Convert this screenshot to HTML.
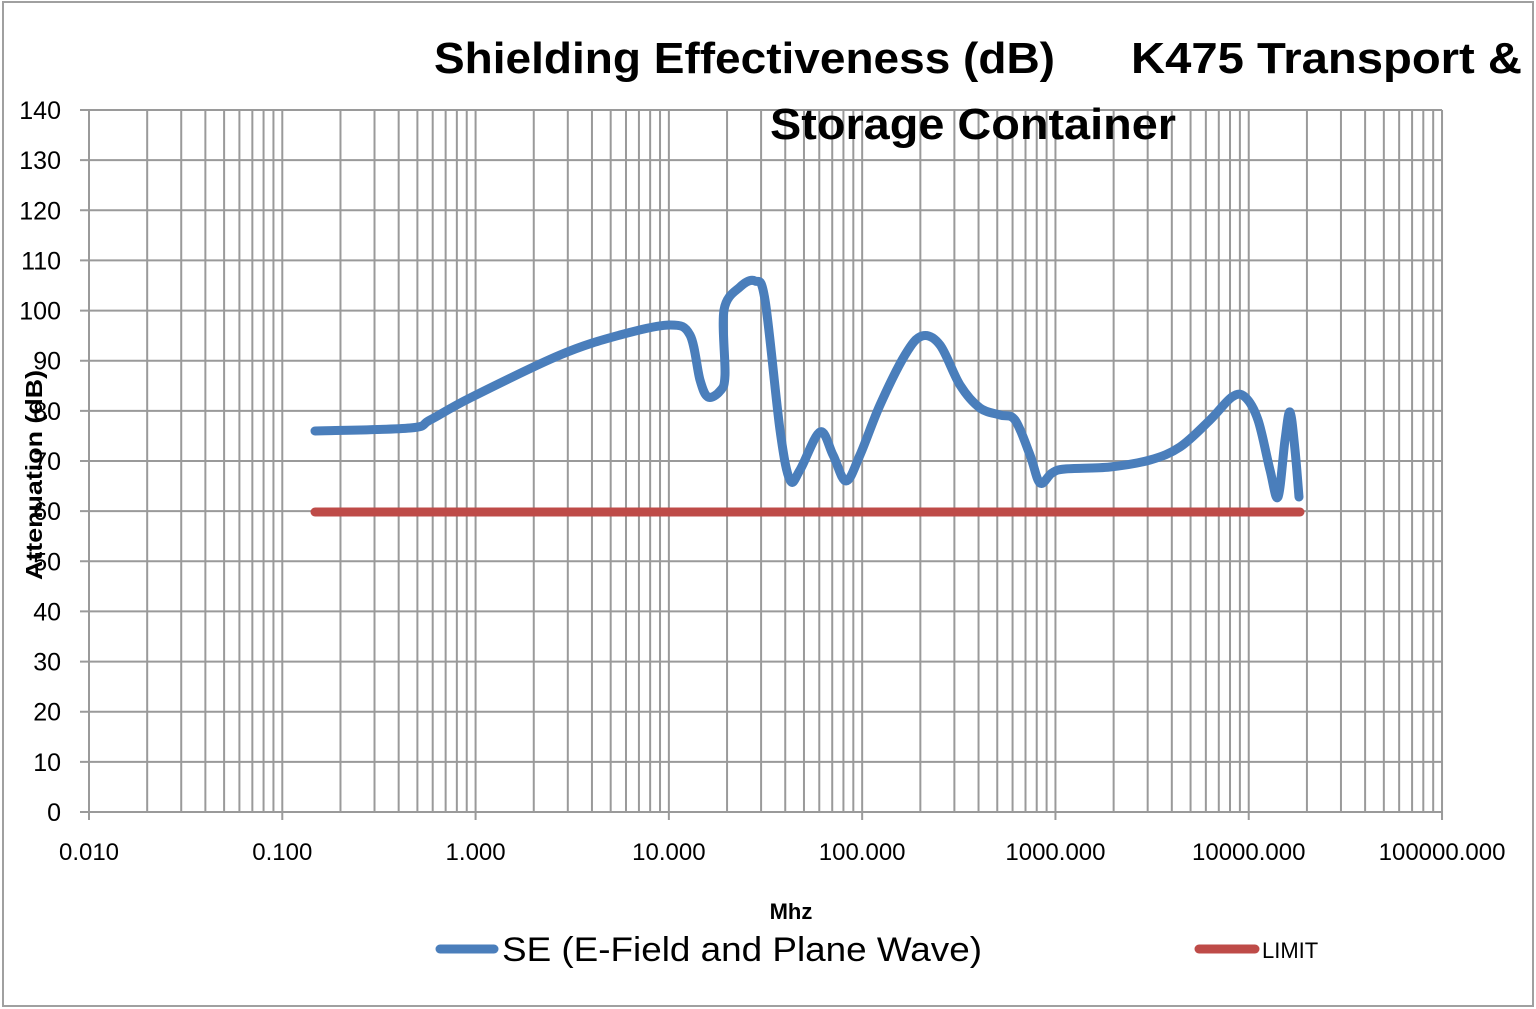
<!DOCTYPE html>
<html><head><meta charset="utf-8"><style>
html,body{margin:0;padding:0;background:#fff;}
svg{display:block;font-family:"Liberation Sans",sans-serif;}
</style></head><body>
<svg id="s" width="1536" height="1009" xmlns="http://www.w3.org/2000/svg">
<rect x="3" y="2" width="1530" height="1004" fill="#fff" stroke="#a0a0a0" stroke-width="2"/>
<g id="grid"></g>
<text x="434" y="73" font-size="44" font-weight="bold" textLength="621" lengthAdjust="spacingAndGlyphs">Shielding Effectiveness (dB)</text>
<text x="1131" y="73" font-size="44" font-weight="bold" textLength="391" lengthAdjust="spacingAndGlyphs">K475 Transport &amp;</text>
<text x="770" y="139" font-size="44" font-weight="bold" textLength="406" lengthAdjust="spacingAndGlyphs">Storage Container</text>
<text transform="translate(42,475) rotate(-90)" text-anchor="middle" font-size="23" font-weight="bold" textLength="210" lengthAdjust="spacingAndGlyphs">Attenuation (dB)</text>
<text x="791" y="919" text-anchor="middle" font-size="22" font-weight="bold">Mhz</text>
<line x1="440" y1="949" x2="494" y2="949" stroke="#4a7ebb" stroke-width="9" stroke-linecap="round"/>
<text x="502" y="961" font-size="34" textLength="480" lengthAdjust="spacingAndGlyphs">SE (E-Field and Plane Wave)</text>
<line x1="1199" y1="949" x2="1255" y2="949" stroke="#be4b48" stroke-width="9" stroke-linecap="round"/>
<text x="1262" y="958" font-size="22">LIMIT</text>
</svg>
<script>
var g=document.getElementById('grid'),h='';
var X0=89,D=193.29,Y0=812,Y1=110;
for(var d=0;d<7;d++)for(var k=1;k<10;k++){var x=X0+d*D+Math.log10(k)*D;h+='<line x1="'+x+'" y1="'+Y1+'" x2="'+x+'" y2="'+(k==1?Y0+8:Y0)+'" stroke="#9a9a9a" stroke-width="2"/>';}
h+='<line x1="'+(X0+7*D)+'" y1="'+Y1+'" x2="'+(X0+7*D)+'" y2="'+(Y0+8)+'" stroke="#9a9a9a" stroke-width="2"/>';
var labs=['0.010','0.100','1.000','10.000','100.000','1000.000','10000.000','100000.000'];
for(var i=0;i<8;i++)h+='<text x="'+(X0+i*D)+'" y="860" text-anchor="middle" font-size="24">'+labs[i]+'</text>';
for(var v=0;v<=140;v+=10){var y=Y0-(Y0-Y1)*v/140;h+='<line x1="'+(X0-9)+'" y1="'+y+'" x2="'+(X0+7*D)+'" y2="'+y+'" stroke="#9a9a9a" stroke-width="2"/>';h+='<text x="61" y="'+(y+9)+'" text-anchor="end" font-size="25">'+v+'</text>';}
h+='<line x1="315" y1="512" x2="1300" y2="512" stroke="#be4b48" stroke-width="9" stroke-linecap="round"/>';
var p=[[315,431],[410,428],[430,420],[470,398],[560,355],[620,335],[670,325],[690,335],[700,380],[708,397],[720,391],[725,375],[724,310],[740,287],[755,281],[765,300],[780,430],[790,480],[800,470],[820,432],[833,455],[846,481],[860,455],[880,405],[905,355],[922,336],[940,345],[960,385],[980,408],[1000,415],[1015,420],[1030,455],[1040,483],[1052,473],[1065,469],[1110,467],[1150,460],[1180,447],[1210,420],[1232,397],[1245,397],[1258,420],[1270,470],[1278,497],[1285,440],[1290,412],[1295,450],[1299,497]];
var d='M'+p[0];
for(var i=0;i<p.length-1;i++){var a=p[Math.max(i-1,0)],b=p[i],c=p[i+1],e=p[Math.min(i+2,p.length-1)];
d+=' C'+(b[0]+(c[0]-a[0])/6)+','+(b[1]+(c[1]-a[1])/6)+' '+(c[0]-(e[0]-b[0])/6)+','+(c[1]-(e[1]-b[1])/6)+' '+c[0]+','+c[1];}
h+='<path d="'+d+'" fill="none" stroke="#4a7ebb" stroke-width="9" stroke-linecap="round" stroke-linejoin="round"/>';
g.innerHTML=h;
</script>
</body></html>
